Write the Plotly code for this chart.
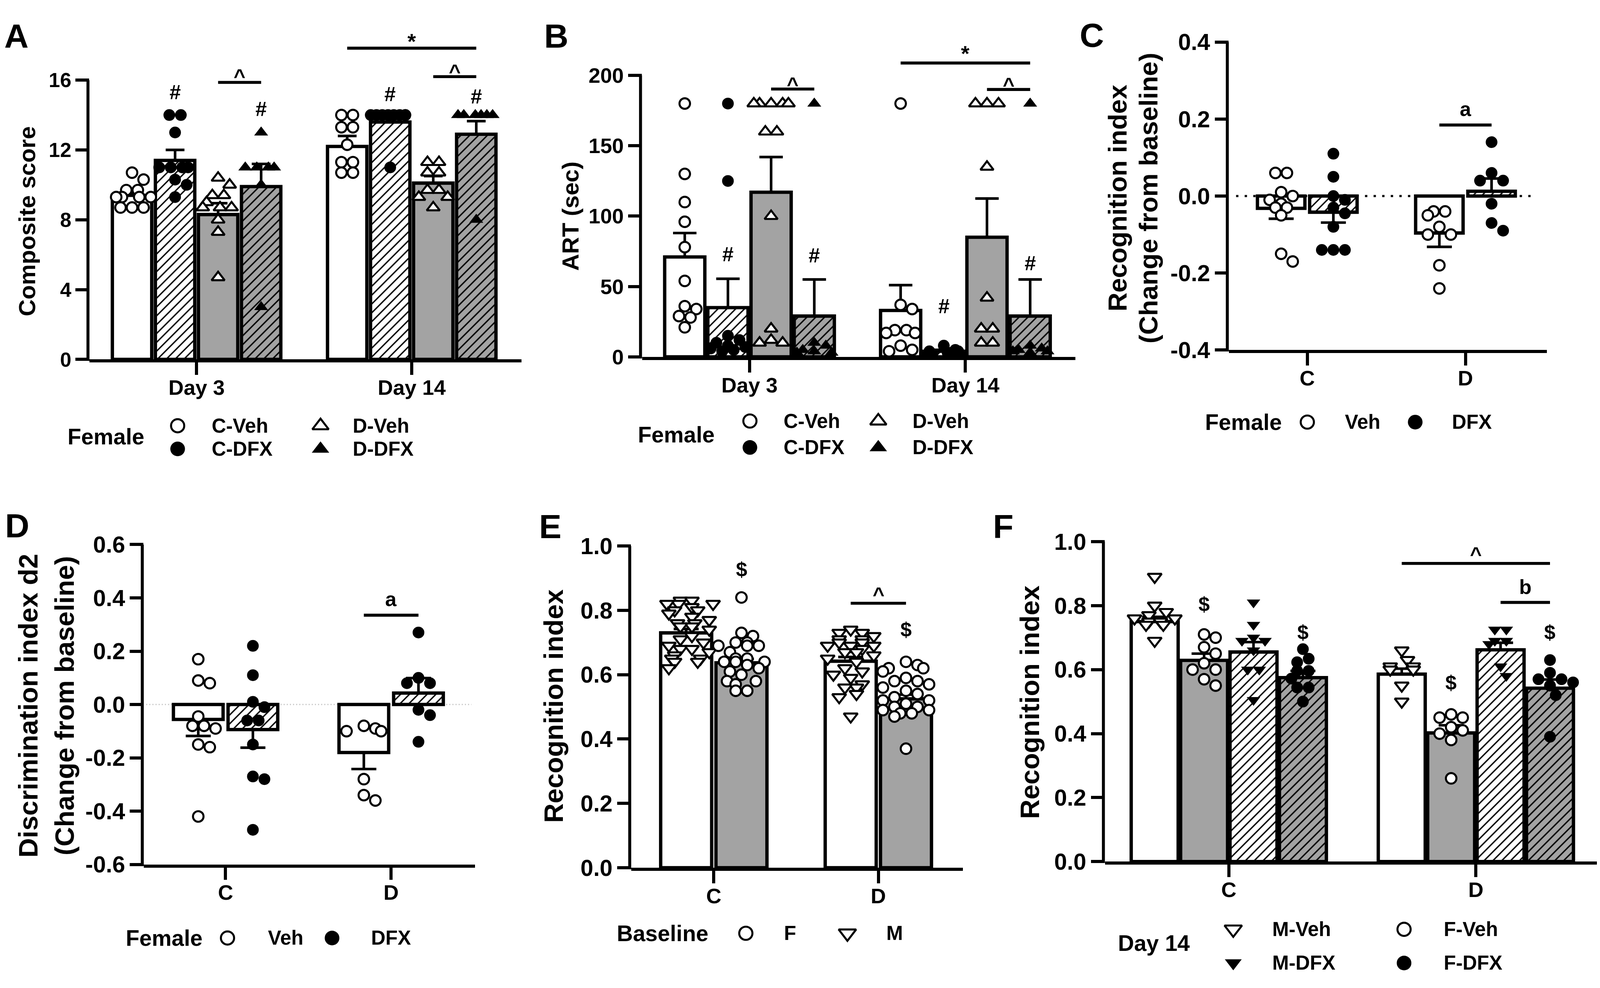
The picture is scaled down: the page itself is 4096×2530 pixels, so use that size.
import math
import plotly.graph_objects as go

W_REF, H_REF = 4300, 2656
OUT_W, OUT_H = 4096, 2530
S = OUT_W / W_REF
FONT = 'Liberation Sans'
GRAY = '#a3a3a3'

# ======================= DATA =======================
# ---- Panel A : Composite score ----
A_cats = ['Day 3', 'Day 14']
A_names = ['C-Veh', 'C-DFX', 'D-Veh', 'D-DFX']
A_means = [[9.4, 12.2], [11.4, 13.6], [8.3, 10.1], [9.9, 12.9]]
A_sems = [[0.2, 0.6], [0.6, 0.25], [0.65, 0.4], [1.3, 0.75]]
A_pts_CVeh = [[10.7, 10.3, 9.7, 9.7, 9.3, 9.3, 9.3, 9.3, 8.7, 8.7, 8.7],
              [14, 14, 13.3, 13.3, 12.3, 11.3, 11.3, 10.7, 10.7]]
A_pts_CDFX = [[14, 14, 13, 11, 11, 11, 11, 10.3, 10, 9.3],
              [14, 14, 14, 14, 14, 14, 14, 14, 11]]
A_pts_DVeh = [[10.4, 10.0, 9.4, 9.4, 9.0, 8.7, 8.7, 8.7, 8.0, 7.3, 4.7],
              [11.3, 11.3, 10.7, 10.7, 9.7, 9.7, 9.3, 9.3, 8.7]]
A_pts_DDFX = [[13, 11, 11, 11, 11, 10, 3],
              [14, 14, 14, 14, 14, 14, 8]]
A_sig_lines = [(0, 2, 3, 15.87, '^', 16.5), (1, 2, 3, 16.2, '^', 16.77), (1, 0, 3, 17.83, '*', 18.5)]
A_sig_marks = [(0, 1, 15.3, '#'), (0, 3, 14.34, '#'), (1, 1, 15.2, '#'), (1, 3, 15.07, '#')]

# ---- Panel B : ART (sec) ----
B_cats = ['Day 3', 'Day 14']
B_names = ['C-Veh', 'C-DFX', 'D-Veh', 'D-DFX']
B_means = [[71, 33], [35, 4], [117, 85], [29, 29]]
B_sems = [[17, 18], [20.5, 1.0], [25, 27.5], [26, 26]]
B_pts_CVeh = [[180, 130, 110, 96, 78, 54, 36, 34, 29, 28, 21],
              [180, 37, 34, 19, 19, 17, 17, 8, 5, 4]]
B_pts_CDFX = [[180, 125, 15, 12, 10, 8, 7, 6, 5, 4],
              [8, 5, 4, 4, 3, 3, 3, 2, 2]]
B_pts_DVeh = [[180, 180, 180, 180, 180, 160, 160, 100, 20, 12, 10, 10],
              [180, 180, 180, 135, 42, 20, 20, 10, 10]]
B_pts_DDFX = [[180, 10, 8, 5, 4, 3, 3],
              [180, 8, 6, 5, 4, 4, 3]]
B_sig_lines = [(0, 2, 3, 190.3, '^', 197), (1, 2, 3, 190, '^', 196.8), (1, 0, 3, 208.8, '*', 219)]
B_sig_marks = [(0, 1, 73, '#'), (0, 3, 72, '#'), (1, 1, 36, '#'), (1, 3, 66.6, '#')]

# ---- Panel C : Recognition index change ----
C_cats = ['C', 'D']
C_names = ['Veh', 'DFX']
C_means = [[-0.032, -0.096], [-0.042, 0.0125]]
C_sems = [[0.027, 0.036], [0.027, 0.033]]
C_pts_Veh = [[0.06, 0.06, 0.01, 0.0, -0.01, -0.02, -0.03, -0.03, -0.05, -0.15, -0.17],
             [-0.04, -0.04, -0.05, -0.08, -0.10, -0.10, -0.18, -0.24]]
C_pts_DFX = [[0.11, 0.05, 0.0, -0.01, -0.03, -0.045, -0.08, -0.14, -0.14, -0.14],
             [0.14, 0.06, 0.04, 0.04, -0.02, -0.07, -0.09]]
C_sig_lines = [(1, 0, 1, 0.1845, 'a', 0.226)]
C_sig_marks = []

# ---- Panel D : Discrimination index d2 change ----
D_cats = ['C', 'D']
D_names = ['Veh', 'DFX']
D_means = [[-0.056, -0.18], [-0.094, 0.043]]
D_sems = [[0.062, 0.062], [0.068, 0.056]]
D_pts_Veh = [[0.17, 0.09, 0.08, -0.045, -0.08, -0.08, -0.09, -0.15, -0.16, -0.42],
             [-0.08, -0.09, -0.10, -0.10, -0.28, -0.34, -0.36]]
D_pts_DFX = [[0.22, 0.11, 0.01, -0.01, -0.06, -0.06, -0.15, -0.27, -0.28, -0.47],
             [0.27, 0.10, 0.08, 0.08, -0.02, -0.04, -0.14]]
D_sig_lines = [(1, 0, 1, 0.335, 'a', 0.396)]
D_sig_marks = []

# ---- Panel E : Baseline recognition index ----
E_cats = ['C', 'D']
E_names = ['M', 'F']
E_means = [[0.73, 0.642], [0.637, 0.525]]
E_sems = [[0.012, 0.013], [0.012, 0.013]]
E_pts_M = [[0.83, 0.83, 0.82, 0.82, 0.82, 0.81, 0.80, 0.80, 0.79, 0.78, 0.77, 0.76, 0.76, 0.75,
            0.75, 0.74, 0.72, 0.71, 0.70, 0.69, 0.68, 0.68, 0.67, 0.66, 0.65, 0.65, 0.64, 0.64, 0.62],
           [0.74, 0.73, 0.73, 0.72, 0.71, 0.71, 0.70, 0.70, 0.69, 0.69, 0.69, 0.68, 0.67, 0.67,
            0.66, 0.65, 0.64, 0.62, 0.61, 0.60, 0.59, 0.57, 0.56, 0.56, 0.54, 0.53, 0.47]]
E_pts_F = [[0.84, 0.73, 0.72, 0.70, 0.70, 0.69, 0.69, 0.69, 0.67, 0.65, 0.65, 0.64, 0.64, 0.64,
            0.63, 0.62, 0.61, 0.60, 0.58, 0.58, 0.57, 0.55, 0.55],
           [0.64, 0.63, 0.62, 0.62, 0.61, 0.59, 0.58, 0.58, 0.57, 0.56, 0.55, 0.54, 0.53, 0.52,
            0.52, 0.51, 0.50, 0.50, 0.49, 0.49, 0.48, 0.48, 0.47, 0.37]]
E_sig_lines = [(1, 0, 1, 0.822, '^', 0.864)]
E_sig_marks = [(0, 1, 0.927, '$'), (1, 1, 0.741, '$')]

# ---- Panel F : Day 14 recognition index ----
F_cats = ['C', 'D']
F_names = ['M-Veh', 'F-Veh', 'M-DFX', 'F-DFX']
F_means = [[0.75, 0.586], [0.629, 0.402], [0.655, 0.662], [0.575, 0.542]]
F_sems = [[0.015, 0.017], [0.021, 0.024], [0.031, 0.022], [0.021, 0.027]]
F_pts_MVeh = [[0.89, 0.80, 0.78, 0.77, 0.76, 0.76, 0.75, 0.75, 0.74, 0.74, 0.69],
              [0.66, 0.63, 0.61, 0.61, 0.60, 0.60, 0.55, 0.50]]
F_pts_FVeh = [[0.71, 0.70, 0.67, 0.65, 0.62, 0.60, 0.60, 0.57, 0.55],
              [0.46, 0.45, 0.45, 0.42, 0.41, 0.40, 0.38, 0.26]]
F_pts_MDFX = [[0.81, 0.74, 0.70, 0.69, 0.69, 0.66, 0.60, 0.60, 0.505],
              [0.725, 0.725, 0.69, 0.69, 0.68, 0.61, 0.58]]
F_pts_FDFX = [[0.664, 0.634, 0.623, 0.596, 0.596, 0.572, 0.544, 0.544, 0.50],
              [0.63, 0.59, 0.57, 0.57, 0.56, 0.55, 0.52, 0.39]]
F_sig_lines = [(1, 0, 3, 0.932, '^', 0.976), (1, 2, 3, 0.81, 'b', 0.858)]
F_sig_marks = [(0, 1, 0.805, '$'), (0, 3, 0.717, '$'), (1, 1, 0.559, '$'), (1, 3, 0.717, '$')]

# ======================= STYLES =======================
LW = 8 * S          # axis line width
BAR_LW = 9 * S      # bar outline
ERR_LW = 7 * S      # error bar
SIG_LW = 8 * S
MK_LW = 5.2

STY = {
    'open_circle': dict(fill='white', hatch=False, symbol='circle', mfill='white', size=27),
    'hatch_fcircle': dict(fill='white', hatch=True, symbol='circle', mfill='black', size=30),
    'gray_otri': dict(fill=GRAY, hatch=False, symbol='triangle-up', mfill='white', size=29),
    'ghatch_ftri': dict(fill=GRAY, hatch=True, symbol='triangle-up', mfill='black', size=31),
    'white_otri_dn': dict(fill='white', hatch=False, symbol='triangle-down', mfill='white', size=31),
    'gray_ocircle': dict(fill=GRAY, hatch=False, symbol='circle', mfill='white', size=27),
    'hatch_ftri_dn': dict(fill='white', hatch=True, symbol='triangle-down', mfill='black', size=30),
    'ghatch_fcircle': dict(fill=GRAY, hatch=True, symbol='circle', mfill='black', size=30),
}

PANELS = [
    dict(cats=A_cats, names=A_names, means=A_means, sems=A_sems,
         points=[A_pts_CVeh, A_pts_CDFX, A_pts_DVeh, A_pts_DDFX],
         styles=['open_circle', 'hatch_fcircle', 'gray_otri', 'ghatch_ftri'],
         xpx=(232, 1393), xrange=(-0.498, 1.51), cal=(0, 949, 16, 178), yrange=(0, 18.9),
         yticks=[0, 4, 8, 12, 16], yfmt='{:.0f}', tickfs=52, catfs=54,
         offsets=[-0.3, -0.1, 0.1, 0.3], width=0.183, cap=24,
         sig_lines=A_sig_lines, sig_marks=A_sig_marks, zero=None),
    dict(cats=B_cats, names=B_names, means=B_means, sems=B_sems,
         points=[B_pts_CVeh, B_pts_CDFX, B_pts_DVeh, B_pts_DDFX],
         styles=['open_circle', 'hatch_fcircle', 'gray_otri', 'ghatch_ftri'],
         xpx=(1717, 2882), xrange=(-0.498, 1.51), cal=(0, 942, 200, 165), yrange=(0, 225),
         yticks=[0, 50, 100, 150, 200], yfmt='{:.0f}', tickfs=54, catfs=54,
         offsets=[-0.3, -0.1, 0.1, 0.3], width=0.186, cap=30,
         sig_lines=B_sig_lines, sig_marks=B_sig_marks, zero=None),
    dict(cats=C_cats, names=C_names, means=C_means, sems=C_sems,
         points=[C_pts_Veh, C_pts_DFX],
         styles=['open_circle', 'hatch_fcircle'],
         xpx=(3294, 4149), xrange=(-0.496, 1.515), cal=(-0.4, 923, 0.4, 73), yrange=(-0.4, 0.4),
         yticks=[-0.4, -0.2, 0.0, 0.2, 0.4], yfmt='{:.1f}', tickfs=59, catfs=54,
         offsets=[-0.165, 0.165], width=0.30, cap=32,
         sig_lines=C_sig_lines, sig_marks=C_sig_marks,
         zero=dict(x0=-0.45, x1=1.44, color='black', width=6 * S, dash='6px,16px')),
    dict(cats=D_cats, names=D_names, means=D_means, sems=D_sems,
         points=[D_pts_Veh, D_pts_DFX],
         styles=['open_circle', 'hatch_fcircle'],
         xpx=(378, 1268), xrange=(-0.494, 1.506), cal=(-0.6, 2343, 0.6, 1460), yrange=(-0.6, 0.6),
         yticks=[-0.6, -0.4, -0.2, 0.0, 0.2, 0.4, 0.6], yfmt='{:.1f}', tickfs=59, catfs=54,
         offsets=[-0.165, 0.165], width=0.30, cap=32,
         sig_lines=D_sig_lines, sig_marks=D_sig_marks,
         zero=dict(x0=-0.48, x1=1.485, color='#c8c8c8', width=3, dash='3px,5px')),
    dict(cats=E_cats, names=E_names, means=E_means, sems=E_sems,
         points=[E_pts_M, E_pts_F],
         styles=['white_otri_dn', 'gray_ocircle'],
         xpx=(1688, 2579), xrange=(-0.502, 1.513), cal=(0, 2352, 1, 1464), yrange=(0, 1.0),
         yticks=[0, 0.2, 0.4, 0.6, 0.8, 1.0], yfmt='{:.1f}', tickfs=59, catfs=54,
         offsets=[-0.168, 0.168], width=0.31, cap=32,
         sig_lines=E_sig_lines, sig_marks=E_sig_marks, zero=None),
    dict(cats=F_cats, names=F_names, means=F_means, sems=F_sems,
         points=[F_pts_MVeh, F_pts_FVeh, F_pts_MDFX, F_pts_FDFX],
         styles=['white_otri_dn', 'gray_ocircle', 'hatch_ftri_dn', 'ghatch_fcircle'],
         xpx=(2961, 4290), xrange=(-0.5015, 1.5), cal=(0, 2335, 1, 1452), yrange=(0, 1.0),
         yticks=[0, 0.2, 0.4, 0.6, 0.8, 1.0], yfmt='{:.1f}', tickfs=59, catfs=54,
         offsets=[-0.3, -0.1, 0.1, 0.3], width=0.19, cap=32,
         sig_lines=F_sig_lines, sig_marks=F_sig_marks, zero=None),
]


def axnames(i):
    s = '' if i == 1 else str(i)
    return 'xaxis' + s, 'yaxis' + s, 'x' + s, 'y' + s


def swarm_offsets(vals, ppx, ppy, diam, half):
    n = len(vals)
    step = diam / 2.0
    cands = [0.0]
    k = 1
    while k * step <= half + 1e-6:
        cands += [k * step, -k * step]
        k += 1
    order = sorted(range(n), key=lambda i: (-vals[i], i))
    placed = []
    offs = [0.0] * n
    mind = diam * 0.88
    for i in order:
        y = vals[i] * ppy
        best, bestpen, bestc = None, None, 0.0
        for c in cands:
            pen = 0.0
            for (px_, py_) in placed:
                d = math.hypot(c - px_, y - py_)
                if d < mind:
                    pen += mind - d
            if pen == 0:
                best = c
                break
            if bestpen is None or pen < bestpen:
                bestpen, bestc = pen, c
        if best is None:
            best = bestc
        placed.append((best, y))
        offs[i] = best
    groups = {}
    for i, v in enumerate(vals):
        groups.setdefault(v, []).append(i)
    for v, idxs in groups.items():
        if len(idxs) > 1:
            m = sum(offs[i] for i in idxs) / len(idxs)
            for i in idxs:
                offs[i] -= m
    return [o / ppx for o in offs]


def bfont(size, color='black'):
    return dict(family=FONT, size=size, color=color, weight='bold')


fig = go.Figure()
layout = {}
shapes = []
annotations = []

for pi, P in enumerate(PANELS):
    idx = pi + 1
    xa, ya, xr_, yr_ = axnames(idx)
    va, Ya, vb, Yb = P['cal']

    def ypx(v, va=va, Ya=Ya, vb=vb, Yb=Yb):
        return Ya + (v - va) * (Yb - Ya) / (vb - va)

    y0, y1 = P['yrange']
    Ybot, Ytop = ypx(y0), ypx(y1)
    xl, xr = P['xpx']
    x0r, x1r = P['xrange']
    ppx = (xr - xl) / (x1r - x0r)
    ppy = abs(Yb - Ya) / abs(vb - va)

    layout[xa] = dict(domain=[xl / W_REF, xr / W_REF], range=list(P['xrange']), anchor=yr_,
                      showline=True, linewidth=LW, linecolor='black',
                      ticks='outside', ticklen=32, tickwidth=LW, tickcolor='black',
                      ticklabelstandoff=-14,
                      tickvals=list(range(len(P['cats']))), ticktext=P['cats'],
                      tickfont=bfont(P['catfs']), showgrid=False, zeroline=False, fixedrange=True)
    layout[ya] = dict(domain=[1 - Ybot / H_REF, 1 - Ytop / H_REF], range=list(P['yrange']), anchor=xr_,
                      showline=False, ticks='outside', ticklen=35, tickwidth=LW, tickcolor='black',
                      tickvals=P['yticks'], ticktext=[P['yfmt'].format(t) for t in P['yticks']],
                      tickfont=bfont(P['tickfs']), showgrid=False, zeroline=False, fixedrange=True)

    # y-axis line stopping at the top tick (Prism style)
    xline = xl / W_REF - (LW / 2) / OUT_W
    shapes.append(dict(type='line', xref='paper', yref='paper', layer='above',
                       x0=xline, x1=xline,
                       y0=1 - Ybot / H_REF - (LW / 2) / OUT_H,
                       y1=1 - ypx(P['yticks'][-1]) / H_REF,
                       line=dict(color='black', width=LW)))

    if P['zero']:
        z = P['zero']
        shapes.append(dict(type='line', xref=xr_, yref=yr_, layer='below', x0=z['x0'], x1=z['x1'],
                           y0=0, y1=0, line=dict(color=z['color'], width=z['width'], dash=z['dash'])))

    for j, name in enumerate(P['names']):
        st = STY[P['styles'][j]]
        xs = [c + P['offsets'][j] for c in range(len(P['cats']))]
        means = P['means'][j]
        sems = P['sems'][j]
        up = [s if m >= 0 else 0 for m, s in zip(means, sems)]
        dn = [0 if m >= 0 else s for m, s in zip(means, sems)]
        bmarker = dict(color=st['fill'], line=dict(color='black', width=BAR_LW))
        if st['hatch']:
            bmarker['pattern'] = dict(shape='/', fgcolor='black', bgcolor=st['fill'],
                                      size=16, solidity=0.22, fillmode='replace')
        fig.add_trace(go.Bar(x=xs, y=means, width=P['width'], marker=bmarker, name=name,
                             error_y=dict(type='data', symmetric=False, array=up, arrayminus=dn,
                                          color='black', thickness=ERR_LW, width=P['cap']),
                             xaxis=xr_, yaxis=yr_, showlegend=False, hoverinfo='skip'))
        px_all, py_all = [], []
        for c, pts in enumerate(P['points'][j]):
            offs = swarm_offsets(pts, ppx, ppy, 31, P['width'] * ppx / 2 + 6)
            px_all += [c + P['offsets'][j] + o for o in offs]
            py_all += pts
        mline = MK_LW if st['mfill'] == 'white' else 0
        fig.add_trace(go.Scatter(x=px_all, y=py_all, mode='markers', name=name,
                                 marker=dict(symbol=st['symbol'], size=st['size'], color=st['mfill'],
                                             line=dict(color='black', width=mline)),
                                 cliponaxis=False, xaxis=xr_, yaxis=yr_, showlegend=False,
                                 hoverinfo='skip'))

    # significance markers
    for (c, s0, s1, yv, lab, ylab) in P['sig_lines']:
        xa0 = c + P['offsets'][s0]
        xa1 = c + P['offsets'][s1]
        shapes.append(dict(type='line', xref=xr_, yref=yr_, layer='above', x0=xa0, x1=xa1,
                           y0=yv, y1=yv, line=dict(color='black', width=SIG_LW)))
        ysh = -12 if lab in ('^', '*') else 0
        annotations.append(dict(x=(xa0 + xa1) / 2, y=ylab, xref=xr_, yref=yr_, text=lab,
                                showarrow=False, xanchor='center', yanchor='middle', yshift=ysh,
                                font=bfont(56 if lab == '*' else 52)))
    for (c, s, yv, lab) in P['sig_marks']:
        annotations.append(dict(x=c + P['offsets'][s], y=yv, xref=xr_, yref=yr_, text=lab,
                                showarrow=False, xanchor='center', yanchor='middle',
                                font=bfont(52)))

# ============ canvas (reference-pixel) overlay for titles / legends ============
layout['xaxis7'] = dict(domain=[0, 1], range=[0, W_REF], visible=False, fixedrange=True, anchor='y7')
layout['yaxis7'] = dict(domain=[0, 1], range=[H_REF, 0], visible=False, fixedrange=True, anchor='x7')


def ctext(x, y, text, size, xanchor='center', angle=0):
    annotations.append(dict(x=x, y=y, xref='x7', yref='y7', text=text, showarrow=False,
                            xanchor=xanchor, yanchor='middle', textangle=angle, font=bfont(size)))


# panel letters
for lab, x, y in [('A', 36, 56), ('B', 1486, 56), ('C', 2926, 54),
                  ('D', 38, 1408), ('E', 1470, 1410), ('F', 2688, 1410)]:
    ctext(x, y, lab, 86)

# y-axis titles
ctext(64, 567, 'Composite score', 60, angle=-90)
ctext(1525, 554, 'ART (sec)', 60, angle=-90)
ctext(2995, 503, 'Recognition index', 67, angle=-90)
ctext(3078, 503, '(Change from baseline)', 67, angle=-90)
ctext(67, 1905, 'Discrimination index d2', 69, angle=-90)
ctext(165, 1905, '(Change from baseline)', 69, angle=-90)
ctext(1479, 1906, 'Recognition index', 69, angle=-90)
ctext(2759, 1895, 'Recognition index', 69, angle=-90)

# legends: (title, title_pos, items[(marker_x, y, style_key, text_x, label)])
LEGENDS = [
    ('Female', (276, 1162), [(469, 1132, 'open_circle', 558, 'C-Veh'),
                             (469, 1196, 'hatch_fcircle', 558, 'C-DFX'),
                             (853, 1132, 'gray_otri', 937, 'D-Veh'),
                             (853, 1196, 'ghatch_ftri', 937, 'D-DFX')]),
    ('Female', (1809, 1157), [(2007, 1119, 'open_circle', 2095, 'C-Veh'),
                              (2007, 1192, 'hatch_fcircle', 2095, 'C-DFX'),
                              (2352, 1119, 'gray_otri', 2442, 'D-Veh'),
                              (2352, 1192, 'ghatch_ftri', 2442, 'D-DFX')]),
    ('Female', (3333, 1122), [(3505, 1122, 'open_circle', 3604, 'Veh'),
                              (3795, 1122, 'hatch_fcircle', 3892, 'DFX')]),
    ('Female', (433, 2546), [(603, 2546, 'open_circle', 710, 'Veh'),
                             (884, 2546, 'hatch_fcircle', 987, 'DFX')]),
    ('Baseline', (1772, 2533), [(1996, 2533, 'gray_ocircle', 2096, 'F'),
                                (2269, 2533, 'white_otri_dn', 2372, 'M')]),
    ('Day 14', (3093, 2560), [(3306, 2522, 'white_otri_dn', 3409, 'M-Veh'),
                              (3306, 2615, 'hatch_ftri_dn', 3409, 'M-DFX'),
                              (3765, 2522, 'gray_ocircle', 3870, 'F-Veh'),
                              (3765, 2615, 'ghatch_fcircle', 3870, 'F-DFX')]),
]
for title, (tx, ty), items in LEGENDS:
    ctext(tx, ty, title, 57)
    for (mx, my, sk, lx, lab) in items:
        st = STY[sk]
        mline = MK_LW if st['mfill'] == 'white' else 0
        fig.add_trace(go.Scatter(x=[mx], y=[my], mode='markers', xaxis='x7', yaxis='y7',
                                 marker=dict(symbol=st['symbol'], size=st['size'] * 1.25, color=st['mfill'],
                                             line=dict(color='black', width=mline)),
                                 showlegend=False, hoverinfo='skip', cliponaxis=False))
        ctext(lx, my, lab, 51, xanchor='left')

fig.update_layout(**layout)
fig.update_layout(width=OUT_W, height=OUT_H, margin=dict(l=0, r=0, t=0, b=0, pad=0),
                  paper_bgcolor='white', plot_bgcolor='rgba(0,0,0,0)', barmode='overlay',
                  showlegend=False, shapes=shapes, annotations=annotations,
                  font=dict(family=FONT, color='black'))
fig.write_html('out.html')
